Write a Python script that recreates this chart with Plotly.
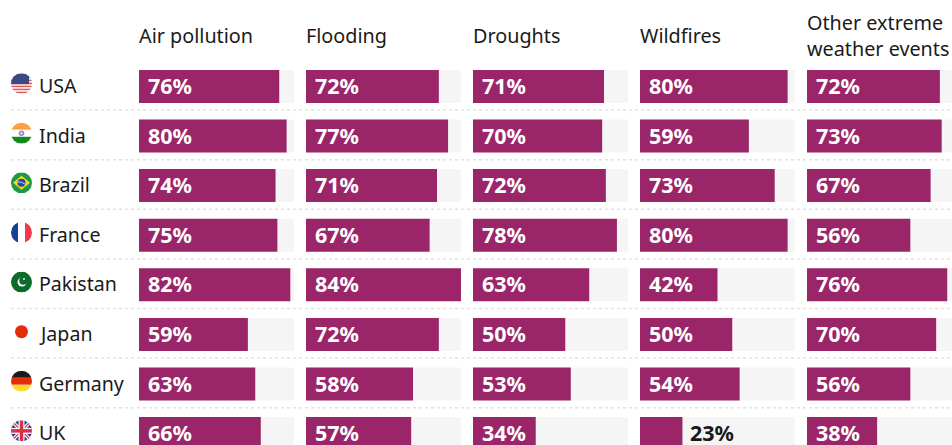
import base64
import plotly.graph_objects as go

countries = ["USA", "India", "Brazil", "France", "Pakistan", "Japan", "Germany", "UK"]
headers = ["Air pollution", "Flooding", "Droughts", "Wildfires", "Other extreme<br>weather events"]
air_pollution = [76, 80, 74, 75, 82, 59, 63, 66]
flooding = [72, 77, 71, 67, 84, 72, 58, 57]
droughts = [71, 70, 72, 78, 63, 50, 53, 34]
wildfires = [80, 59, 73, 80, 42, 50, 54, 23]
other_extreme = [72, 73, 67, 56, 76, 70, 56, 38]
columns = [air_pollution, flooding, droughts, wildfires, other_extreme]

W, H = 952, 445
FONT = "Noto Sans"
BAR = "#9a2669"
TRACK = "#f5f5f5"
INK = "#1a1a1a"
SCALE_MAX = 84
COL_LEFT = [139, 306, 473, 640, 807]
COL_W = 155
ROW_C, ROW_STEP = 86.4, 49.6


def flag(body):
    svg = ('<svg xmlns="http://www.w3.org/2000/svg" viewBox="0 0 42 42" width="84" height="84">'
           '<defs><clipPath id="c"><circle cx="21" cy="21" r="21"/></clipPath></defs>'
           f'<g clip-path="url(#c)">{body}</g></svg>')
    return "data:image/svg+xml;base64," + base64.b64encode(svg.encode()).decode()


def rect(x, y, w, h, c):
    return f'<rect x="{x}" y="{y}" width="{w}" height="{h}" fill="{c}"/>'


usa = rect(0, 0, 42, 42, "#fff")
for k in range(0, 7):
    usa += rect(0, k * 6 + 1, 42, 3, "#e0565b")
usa += rect(0, 0, 36, 22, "#3b4a80")
uk = (rect(0, 0, 42, 42, "#2b3f87")
      + '<path d="M0 0L42 42M42 0L0 42" stroke="#fff" stroke-width="7"/>'
      + '<path d="M0 0L42 42M42 0L0 42" stroke="#d8324a" stroke-width="2.5"/>'
      + rect(15, 0, 12, 42, "#fff") + rect(0, 15, 42, 12, "#fff")
      + rect(17.5, 0, 7, 42, "#d8324a") + rect(0, 17.5, 42, 7, "#d8324a"))
flags = [
    usa,
    rect(0, 0, 42, 14, "#ff9f3f") + rect(0, 14, 42, 14, "#fff") + rect(0, 28, 42, 14, "#138a1f")
    + '<circle cx="21" cy="21" r="5.5" fill="#8d90c8"/><circle cx="21" cy="21" r="2" fill="#fff"/>',
    rect(0, 0, 42, 42, "#1c9a45") + '<path d="M21 7L38 21L21 35L4 21Z" fill="#f7dc1e"/>'
    + '<circle cx="21" cy="21" r="8" fill="#274b9c"/>'
    + '<path d="M13.5 19Q21 18 28.5 24" stroke="#fff" stroke-width="1.5" fill="none"/>',
    rect(0, 0, 14, 42, "#1c3f94") + rect(14, 0, 14, 42, "#fff") + rect(28, 0, 14, 42, "#f1394d"),
    rect(0, 0, 42, 42, "#0c6b2a") + '<circle cx="22" cy="21" r="9" fill="#fff"/>'
    + '<circle cx="24.5" cy="18.5" r="8" fill="#0c6b2a"/>'
    + '<circle cx="26" cy="15" r="1.9" fill="#fff"/>',
    rect(0, 0, 42, 42, "#fff") + '<circle cx="21" cy="21" r="13" fill="#e52d0b"/>',
    rect(0, 0, 42, 14, "#1a1a1a") + rect(0, 14, 42, 14, "#e52d0b") + rect(0, 28, 42, 14, "#fdd82f"),
    uk,
]

rows = list(range(len(countries)))
fig = go.Figure()
layout = {}
annotations = []
for c, (vals, head, left) in enumerate(zip(columns, headers, COL_LEFT)):
    ax = "x" if c == 0 else f"x{c + 1}"
    key = "xaxis" if c == 0 else f"xaxis{c + 1}"
    right = min(left + COL_W, W)
    layout[key] = dict(domain=[left / W, right / W],
                       range=[0, SCALE_MAX * (right - left) / COL_W],
                       visible=False, fixedrange=True, anchor="y")
    fig.add_trace(go.Bar(y=rows, x=[SCALE_MAX] * len(rows), orientation="h", width=0.665,
                         marker=dict(color=TRACK, line_width=0), xaxis=ax, yaxis="y",
                         hoverinfo="skip", showlegend=False))
    fig.add_trace(go.Bar(y=rows, x=vals, orientation="h", width=0.665,
                         marker=dict(color=BAR, line_width=0), xaxis=ax, yaxis="y",
                         hoverinfo="skip", showlegend=False))
    annotations.append(dict(text=head, xref="paper", yref="paper", x=(left - 2) / W, y=1 - 35.5 / H,
                            xanchor="left", yanchor="middle", align="left", showarrow=False,
                            font=dict(family=FONT, size=19.8, color=INK)))
    for r, v in zip(rows, vals):
        inside = v >= 30
        annotations.append(dict(text=f"<b>{v}%</b>", xref=ax, yref="y",
                                x=0 if inside else v, y=r, xshift=6.5 if inside else 6, yshift=1,
                                xanchor="left", yanchor="middle", showarrow=False,
                                font=dict(family=FONT, size=21.5, color="#ffffff" if inside else INK)))

shapes = []
images = []
for r, name in enumerate(countries):
    annotations.append(dict(text=name, xref="paper", yref="y", x=36.8 / W, y=r, yshift=1,
                            xanchor="left", yanchor="middle", showarrow=False,
                            font=dict(family=FONT, size=19.6, color=INK)))
    images.append(dict(source=flag(flags[r]), xref="paper", yref="y", x=11 / W, y=r - 0.055,
                       sizex=21 / W, sizey=21 / ROW_STEP, xanchor="left", yanchor="middle",
                       sizing="stretch", layer="above"))
    if r < len(countries) - 1:
        shapes.append(dict(type="line", xref="paper", yref="y", x0=11 / W, x1=1, y0=r + 0.478, y1=r + 0.478,
                           line=dict(color="#e2e2e2", width=1.5, dash="dot")))

layout["yaxis"] = dict(domain=[0, 1],
                       range=[(H - ROW_C) / ROW_STEP, -ROW_C / ROW_STEP],
                       visible=False, fixedrange=True)

fig.update_layout(width=W, height=H, margin=dict(l=0, r=0, t=0, b=0), autosize=False,
                  paper_bgcolor="#ffffff", plot_bgcolor="#ffffff", barmode="overlay",
                  showlegend=False, annotations=annotations, shapes=shapes, images=images, **layout)
fig.write_html("out.html", config=dict(displayModeBar=False, staticPlot=True),
               post_script="document.body.style.margin='0';document.body.style.overflow='hidden';")
